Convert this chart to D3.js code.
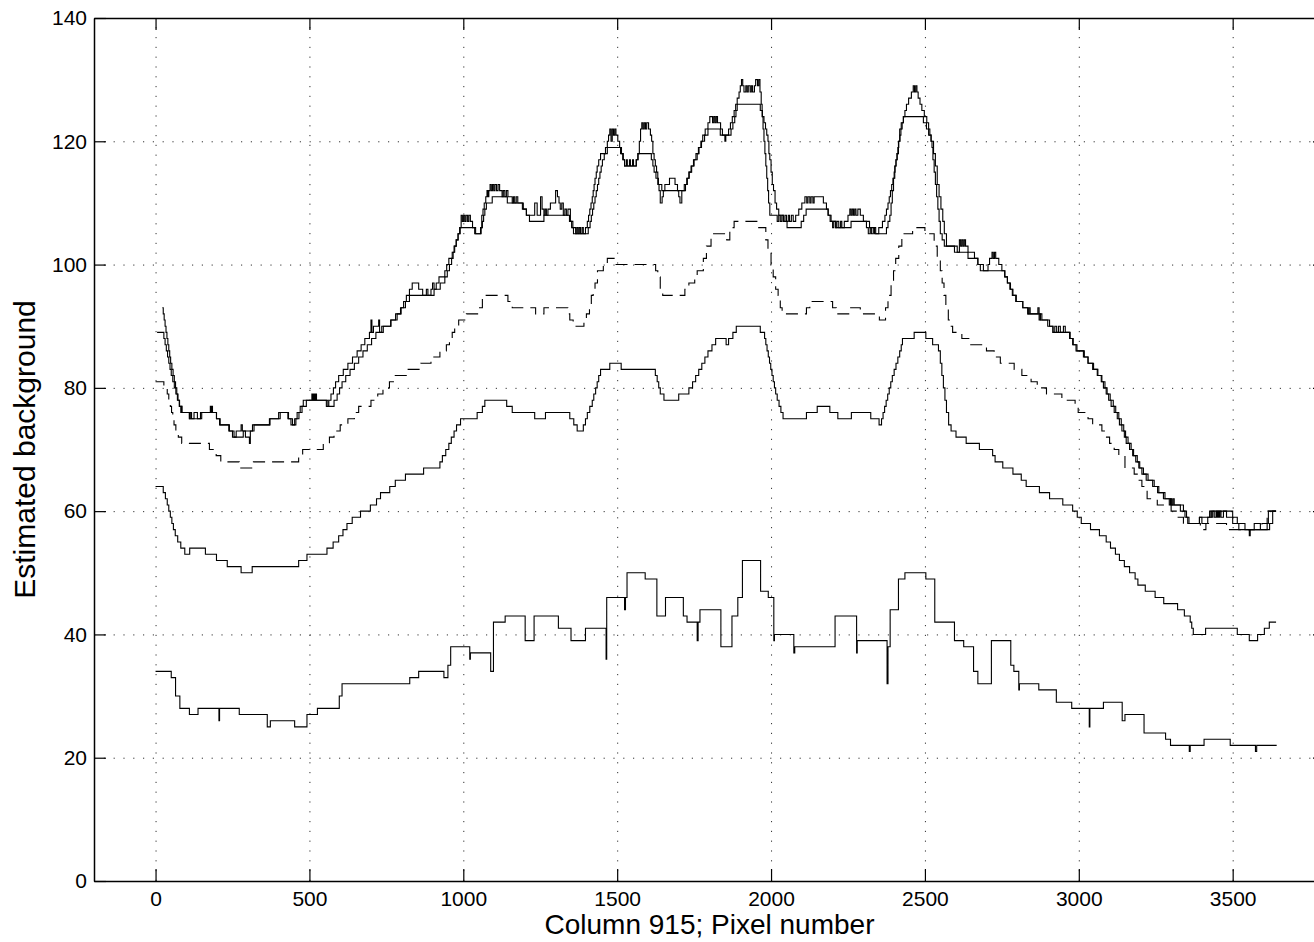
<!DOCTYPE html>
<html>
<head>
<meta charset="utf-8">
<script src="https://cdn.jsdelivr.net/npm/d3@7"></script>
<style>
  html, body { margin: 0; padding: 0; background: #fff; }
  svg { display: block; }
  text { font-family: "Liberation Sans", Arial, Helvetica, sans-serif; fill: #000; }
</style>
</head>
<body>
<svg id="chart" width="1314" height="942"></svg>
<script>
// Background estimates along column 915, stored as [pixel, level] step breakpoints.
const xTicks = [0, 500, 1000, 1500, 2000, 2500, 3000, 3500];
const yTicks = [0, 20, 40, 60, 80, 100, 120, 140];

// Upper estimate, unsmoothed (noisy steps)
const upperRaw = [[22,93],[25,92],[28,91],[31,90],[34,89],[37,88],[40,87],[43,86],[46,85],[49,84],[53,83],[57,82],[61,81],[65,80],[69,79],[73,78],[78,77],[82,76],[84,77],[86,76],
[110,75],[113,76],[117,75],[125,76],[136,75],[146,76],[178,77],[180,76],[182,77],[185,76],[198,75],[208,74],[238,73],[250,72],[262,73],[278,74],[282,73],[292,72],[305,71],[308,73],[320,74],[370,75],[400,76],[430,75],[440,74],[452,75],[460,76],[470,77],[480,78],[508,79],[511,78],[514,79],[517,78],[520,79],[523,78],[540,78],[555,77],[563,78],[570,79],[578,80],[585,81],[595,82],[610,83],[625,84],[640,85],[655,86],[668,87],[680,88],[695,89],[700,91],[703,89],[708,90],[725,91],[728,89],[735,90],[764,91],[780,92],[796,93],[806,94],[815,95],[825,96],[834,97],[855,96],[868,95],[880,96],[885,95],[895,96],[900,97],[905,96],[912,97],[921,98],[937,98],[940,99],[946,100],[953,101],[964,102],[970,103],[977,104],[983,105],[988,106],
[993,108],[997,107],[1001,108],[1005,107],[1009,108],[1014,107],[1018,108],[1023,107],[1030,106],[1037,105],[1056,106],[1060,108],[1064,109],[1068,110],[1073,111],[1077,112],[1080,111],[1083,112],[1087,113],[1091,112],[1095,113],[1099,112],[1103,113],[1108,112],[1113,113],[1118,112],[1126,111],[1130,112],[1135,111],[1140,112],[1145,111],[1159,110],[1163,111],[1167,110],[1172,111],[1177,110],[1192,109],[1205,108],[1232,110],[1240,108],[1251,111],[1256,109],[1262,108],[1266,109],[1270,108],[1275,109],[1283,110],[1300,112],[1306,111],[1311,110],[1315,109],[1320,110],[1325,108],[1330,109],[1335,108],[1340,109],[1348,107],[1356,106],[1365,105],[1369,106],[1373,105],[1377,106],[1381,105],[1386,106],[1390,105],[1397,106],[1403,107],[1407,108],[1411,109],[1415,110],[1419,111],[1422,112],[1425,113],[1428,114],[1432,115],[1435,116],[1440,117],[1446,118],[1462,119],[1468,120],[1472,121],[1476,122],[1480,120],[1484,122],[1488,121],[1492,122],[1496,121],[1502,120],[1508,119],[1514,118],[1520,117],[1524,116],[1530,117],[1533,116],[1540,117],[1543,116],[1550,117],[1553,116],[1562,117],[1567,118],[1572,120],[1576,122],[1580,123],[1584,122],[1588,123],[1592,122],[1596,123],[1602,122],[1608,121],[1612,120],[1616,118],[1620,117],[1624,116],[1628,115],[1632,113],[1636,112],[1640,110],[1646,111],[1650,112],[1655,113],[1670,114],[1688,113],[1696,112],[1700,111],[1704,110],[1710,112],[1718,113],[1726,114],[1733,115],[1742,116],[1750,117],[1760,118],[1766,119],[1772,120],[1778,121],[1786,122],[1795,123],[1801,124],[1810,123],[1814,124],[1818,123],[1822,124],[1826,123],[1836,122],[1842,121],[1850,120],[1853,121],[1862,122],[1868,123],[1874,124],[1880,125],[1885,126],[1890,127],[1896,128],[1900,129],[1904,130],[1908,129],[1912,128],[1918,129],[1922,128],[1926,129],[1932,128],[1936,129],[1940,128],[1946,129],[1950,130],[1956,129],[1960,130],[1964,128],[1968,126],[1971,124],[1974,122],[1977,120],[1980,118],[1983,116],[1986,114],[1989,112],[1992,110],[1996,108],[2020,107],[2025,108],[2030,107],[2035,108],[2040,107],[2045,108],[2050,107],[2056,108],[2060,107],[2066,108],[2072,107],[2080,108],[2090,109],[2100,110],[2110,111],[2116,110],[2120,111],[2126,110],[2130,111],[2136,110],[2140,111],[2170,110],[2180,109],[2186,108],[2192,107],[2200,106],[2204,107],[2210,106],[2214,107],[2220,106],[2226,107],[2230,106],[2238,107],[2250,108],[2256,109],[2260,108],[2264,109],[2268,108],[2272,109],[2276,108],[2282,109],[2290,108],[2300,107],[2310,106],[2316,105],[2322,106],[2326,105],[2332,106],[2336,105],[2350,106],[2362,107],[2370,108],[2375,109],[2380,110],[2384,111],[2388,112],[2392,113],[2396,114],[2400,115],[2403,116],[2406,117],[2409,118],[2412,119],[2415,120],[2419,121],[2422,122],[2426,123],[2430,124],[2435,125],[2440,126],[2447,127],[2456,128],[2462,129],[2466,128],[2470,129],[2474,128],[2478,127],[2484,126],[2490,125],[2498,124],[2506,123],[2512,122],[2516,121],[2520,120],[2523,119],[2526,117],[2530,115],[2534,113],[2538,111],[2542,109],[2546,107],[2550,105],[2556,104],[2563,103],[2596,102],[2612,104],[2616,103],[2620,104],[2624,103],[2628,104],[2632,103],[2640,102],[2661,101],[2672,100],[2680,99],[2705,100],[2710,101],[2718,102],[2722,101],[2726,102],[2730,101],[2740,100],[2750,99],[2759,98],[2768,97],[2778,96],[2786,95],[2797,94],[2818,93],[2834,92],[2838,93],[2842,92],[2867,93],[2871,91],[2875,92],[2880,91],[2899,90],[2916,89],[2922,90],[2928,89],[2934,90],[2940,89],[2950,90],[2956,89],[2970,88],[2980,87],[2991,86],[3018,85],[3030,84],[3045,83],[3060,82],[3073,81],[3080,80],[3089,79],[3097,78],[3105,77],[3115,76],[3125,75],[3132,74],[3140,73],[3148,72],[3154,71],[3165,70],[3175,69],[3185,68],[3195,67],[3205,66],[3219,65],[3240,64],[3256,63],[3275,62],[3294,61],[3298,62],[3302,61],[3306,62],[3310,61],[3330,60],[3345,59],[3354,58],[3392,59],[3400,58],[3419,59],[3425,60],[3430,59],[3435,60],[3440,59],[3446,60],[3449,59],[3452,60],[3455,59],[3458,60],[3462,59],[3470,60],[3480,59],[3495,59],[3500,58],[3520,57],[3554,56],[3557,57],[3570,58],[3590,57],[3612,58],[3616,60],[3641,60]];

// Upper estimate, smoothed
const upperSmooth = [[5,89],[27,88],[31,87],[35,86],[39,85],[43,84],[47,83],[51,82],[56,81],[61,80],[66,79],[71,78],[77,77],[85,76],[110,75],[150,76],[198,75],[210,74],[240,73],[255,72],[285,73],[315,74],[372,75],[405,76],[432,75],[445,74],[456,75],[466,76],[476,77],[490,78],[560,77],[580,78],[590,79],[598,80],[606,81],[618,82],[632,83],[646,84],[660,85],[674,86],[688,87],[702,88],[716,89],[740,90],[765,91],[785,92],[798,93],[812,94],[825,95],[905,96],[925,97],[940,98],[948,99],[955,100],[962,101],[967,102],[972,103],[977,104],[983,105],[990,106],[1040,105],[1058,106],[1062,107],[1066,108],[1070,109],[1075,110],[1094,111],[1143,110],[1195,109],[1205,108],[1215,107],[1262,108],[1345,107],[1352,106],[1358,105],[1406,106],[1412,107],[1416,108],[1420,109],[1424,110],[1428,111],[1432,112],[1436,113],[1440,114],[1444,115],[1448,116],[1452,117],[1458,118],[1468,119],[1511,118],[1518,117],[1524,116],[1562,117],[1568,118],[1611,117],[1616,116],[1620,115],[1626,114],[1634,113],[1645,112],[1722,113],[1728,114],[1734,115],[1740,116],[1748,117],[1756,118],[1764,119],[1774,120],[1784,121],[1795,122],[1835,121],[1870,122],[1876,123],[1882,124],[1886,125],[1890,126],[1965,125],[1972,124],[1977,123],[1982,122],[1986,121],[1990,120],[1993,118],[1996,117],[2000,115],[2004,113],[2008,112],[2013,110],[2018,109],[2025,108],[2040,107],[2052,106],[2098,107],[2106,108],[2114,109],[2185,108],[2195,107],[2210,106],[2260,107],[2320,106],[2340,105],[2375,106],[2380,107],[2386,108],[2390,110],[2394,112],[2398,114],[2402,116],[2406,117],[2410,118],[2414,120],[2418,122],[2423,123],[2430,124],[2495,123],[2505,122],[2512,121],[2520,120],[2528,118],[2534,116],[2540,113],[2546,111],[2552,109],[2558,107],[2563,105],[2570,103],[2605,102],[2640,101],[2672,100],[2690,99],[2760,98],[2768,97],[2776,96],[2784,95],[2795,94],[2818,93],[2835,92],[2875,91],[2905,90],[2916,89],[2972,88],[2982,87],[2994,86],[3015,85],[3030,84],[3048,83],[3062,82],[3075,81],[3085,80],[3092,79],[3102,78],[3112,77],[3120,76],[3130,75],[3138,74],[3146,73],[3152,72],[3160,71],[3170,70],[3178,69],[3190,68],[3198,67],[3210,66],[3225,65],[3245,64],[3260,63],[3280,62],[3300,61],[3340,60],[3350,59],[3358,58],[3392,59],[3430,60],[3500,59],[3515,58],[3540,57],[3620,58],[3630,60],[3641,60]];

// Middle estimate (dashed)
const middle = [[0,81],[27,80],[38,79],[43,78],[48,77],[52,76],[56,75],[60,74],[66,73],[74,72],[85,71],[175,70],[197,69],[212,68],[272,67],[318,68],[465,69],[478,70],[545,71],[565,72],[580,73],[600,74],[625,75],[646,76],[660,77],[700,78],[722,79],[739,80],[760,81],[779,82],[819,83],[862,84],[895,85],[924,86],[945,87],[955,88],[964,89],[972,90],[985,91],[1010,92],[1050,93],[1062,95],[1145,94],[1159,93],[1235,92],[1262,93],[1340,92],[1346,91],[1357,90],[1392,91],[1400,92],[1410,93],[1416,95],[1422,96],[1428,97],[1436,99],[1455,100],[1468,101],[1490,100],[1625,99],[1632,98],[1640,96],[1648,95],[1720,96],[1733,97],[1752,98],[1760,99],[1780,101],[1790,103],[1805,105],[1856,104],[1866,106],[1880,107],[1960,106],[1983,104],[1990,102],[2000,100],[2007,98],[2015,96],[2023,95],[2030,93],[2036,92],[2115,93],[2126,94],[2200,93],[2212,92],[2255,93],[2290,92],[2352,91],[2372,93],[2380,95],[2390,97],[2398,99],[2405,101],[2415,103],[2425,105],[2460,106],[2500,105],[2530,103],[2540,101],[2550,99],[2556,97],[2562,95],[2568,93],[2576,91],[2583,90],[2590,89],[2620,88],[2645,87],[2700,86],[2725,85],[2745,84],[2790,83],[2815,82],[2845,81],[2865,80],[2895,79],[2945,78],[2988,77],[2998,76],[3030,75],[3045,74],[3075,73],[3090,72],[3100,71],[3115,70],[3130,69],[3150,67],[3180,66],[3192,65],[3205,64],[3222,62],[3255,61],[3300,60],[3321,59],[3340,58],[3395,57],[3413,58],[3480,57],[3595,58],[3612,60],[3641,60]];

// Lower estimate
const lower = [[0,64],[25,63],[32,62],[38,61],[43,60],[48,59],[53,58],[58,57],[64,56],[72,55],[82,54],[95,53],[111,54],[162,53],[198,52],[233,51],[278,50],[314,51],[465,52],[492,53],[557,54],[577,55],[595,56],[609,57],[622,58],[639,59],[666,60],[698,61],[718,62],[731,63],[761,64],[779,65],[812,66],[871,67],[924,68],[932,69],[943,70],[953,71],[961,72],[970,73],[978,74],[991,75],[1045,76],[1062,77],[1070,78],[1141,77],[1159,76],[1232,75],[1267,76],[1346,75],[1359,74],[1370,73],[1390,74],[1397,75],[1403,76],[1411,77],[1419,78],[1424,79],[1430,80],[1435,81],[1440,82],[1446,83],[1476,84],[1513,83],[1624,82],[1630,81],[1635,80],[1640,79],[1652,78],[1700,79],[1733,80],[1745,81],[1755,82],[1765,83],[1775,84],[1785,85],[1795,86],[1808,87],[1820,88],[1854,87],[1862,88],[1876,89],[1887,90],[1965,89],[1979,88],[1983,87],[1987,86],[1991,85],[1995,84],[1999,83],[2003,82],[2007,81],[2011,80],[2015,79],[2020,78],[2026,77],[2032,76],[2039,75],[2115,76],[2150,77],[2191,76],[2217,75],[2261,76],[2324,75],[2351,74],[2359,75],[2364,76],[2369,77],[2374,78],[2379,79],[2384,80],[2389,81],[2394,82],[2400,83],[2406,84],[2412,85],[2418,86],[2423,87],[2427,88],[2465,89],[2503,88],[2525,87],[2544,86],[2550,84],[2555,82],[2560,80],[2565,78],[2570,76],[2577,74],[2585,73],[2601,72],[2634,71],[2677,70],[2720,69],[2728,68],[2753,67],[2786,66],[2813,65],[2829,64],[2872,63],[2905,62],[2948,61],[2980,60],[2995,59],[3008,58],[3038,57],[3067,56],[3089,55],[3103,54],[3119,53],[3132,52],[3148,51],[3165,50],[3183,49],[3192,48],[3216,47],[3248,46],[3276,45],[3321,44],[3343,43],[3362,42],[3367,41],[3372,40],[3412,41],[3515,40],[3554,39],[3581,40],[3603,41],[3619,42],[3641,42]];

// Minimum estimate
const minimum = [[0,34],[51,33],[65,30],[79,28],[110,27],[138,28],[206,26],[208,28],[272,27],[363,25],[373,26],[452,25],[492,27],[526,28],[597,30],[606,32],[826,33],[855,34],[937,33],[950,35],[959,38],[1021,36],[1023,37],[1089,34],[1098,42],[1136,43],[1201,39],[1230,43],[1309,41],[1350,39],[1397,41],[1464,36],[1466,46],[1524,44],[1527,46],[1532,50],[1591,49],[1629,43],[1657,46],[1715,43],[1727,42],[1760,39],[1763,42],[1769,44],[1837,38],[1873,43],[1892,46],[1907,52],[1966,47],[1991,46],[2009,39],[2011,40],[2074,37],[2077,38],[2208,43],[2278,37],[2280,39],[2377,32],[2380,38],[2387,44],[2414,49],[2435,50],[2503,49],[2532,42],[2596,39],[2626,38],[2658,34],[2672,32],[2716,39],[2779,35],[2789,34],[2805,31],[2807,32],[2870,31],[2927,29],[2977,28],[3034,25],[3036,28],[3080,29],[3141,26],[3150,27],[3212,24],[3282,23],[3298,22],[3359,21],[3362,22],[3407,23],[3492,22],[3574,21],[3578,22],[3643,22]];

const svg = d3.select("#chart");
const xScale = d3.scaleLinear().domain([-200, 3800]).range([94, 1325]);
const yScale = d3.scaleLinear().domain([0, 140]).range([881, 18]);

// Dotted grid
const grid = svg.append("g").attr("stroke", "#333").attr("stroke-width", 1)
  .attr("stroke-dasharray", "1.2,8.6");
grid.selectAll("line.v").data(xTicks).join("line").attr("class", "v")
  .attr("x1", d => xScale(d) + 0.5).attr("x2", d => xScale(d) + 0.5)
  .attr("y1", yScale(0)).attr("y2", yScale(140));
grid.selectAll("line.h").data(yTicks.filter(v => v > 0 && v < 140)).join("line").attr("class", "h")
  .attr("x1", xScale(-200)).attr("x2", xScale(3800))
  .attr("y1", d => yScale(d) + 0.5).attr("y2", d => yScale(d) + 0.5);

// Series
const stepLine = d3.line().curve(d3.curveStepAfter).x(d => xScale(d[0])).y(d => yScale(d[1]));
const seriesList = [
  {data: minimum, dash: null},
  {data: lower, dash: null},
  {data: middle, dash: "12,7"},
  {data: upperSmooth, dash: null},
  {data: upperRaw, dash: null}
];
svg.append("g").selectAll("path").data(seriesList).join("path")
  .attr("d", d => stepLine(d.data))
  .attr("fill", "none").attr("stroke", "#000").attr("stroke-width", 1.1)
  .attr("stroke-dasharray", d => d.dash);

// Axes box with inward ticks
const axisG = svg.append("g");
const tickLen = 12;
const fmt = d3.format("d");
const axBottom = d3.axisBottom(xScale).tickValues(xTicks).tickFormat(fmt).tickSizeInner(-tickLen).tickSizeOuter(0).tickPadding(10);
const axTop = d3.axisTop(xScale).tickValues(xTicks).tickSizeInner(-tickLen).tickSizeOuter(0).tickFormat("");
const axLeft = d3.axisLeft(yScale).tickValues(yTicks).tickFormat(fmt).tickSizeInner(-tickLen).tickSizeOuter(0).tickPadding(7);
const axRight = d3.axisRight(yScale).tickValues(yTicks).tickSizeInner(-tickLen).tickSizeOuter(0).tickFormat("");

function styleAxis(g) {
  g.select(".domain").attr("stroke", "#000").attr("stroke-width", 1.5);
  g.selectAll(".tick line").attr("stroke", "#000").attr("stroke-width", 1.2);
  g.selectAll(".tick text").attr("font-size", "21px").attr("font-family", "Liberation Sans, Arial, sans-serif").attr("fill", "#000");
}
axisG.append("g").attr("transform", `translate(0,${yScale(0)})`).call(axBottom).call(styleAxis);
axisG.append("g").attr("transform", `translate(0,${yScale(140)})`).call(axTop).call(styleAxis);
axisG.append("g").attr("transform", `translate(${xScale(-200)},0)`).call(axLeft).call(styleAxis);
axisG.append("g").attr("transform", `translate(${xScale(3800)},0)`).call(axRight).call(styleAxis);

// Axis titles
svg.append("text")
  .attr("x", (xScale(-200) + xScale(3800)) / 2).attr("y", 934)
  .attr("text-anchor", "middle").attr("font-size", "28px")
  .text("Column 915; Pixel number");
svg.append("text")
  .attr("transform", `translate(35,${(yScale(0) + yScale(140)) / 2}) rotate(-90)`)
  .attr("text-anchor", "middle").attr("font-size", "30px")
  .text("Estimated background");
</script>
</body>
</html>
